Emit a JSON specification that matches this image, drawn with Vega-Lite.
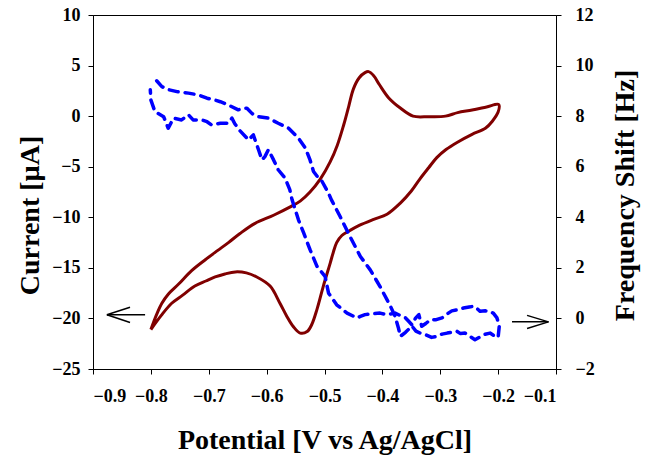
{
  "$schema": "https://vega.github.io/schema/vega-lite/v6.json",
  "autosize": {"type": "none"},
  "padding": {"left": 93, "top": 15, "right": 94, "bottom": 91},
  "width": 463,
  "height": 354,
  "background": "white",
  "config": {
    "font": "Liberation Serif",
    "view": {"stroke": "black", "strokeWidth": 1},
    "axis": {
      "grid": false,
      "labelFont": "Liberation Serif",
      "titleFont": "Liberation Serif",
      "labelFontSize": 18,
      "labelFontWeight": "bold",
      "labelColor": "black",
      "titleFontSize": 28,
      "titleFontWeight": "bold",
      "titleColor": "black",
      "domainColor": "black",
      "tickColor": "black",
      "tickSize": 5
    }
  },
  "datasets": {
    "cv": [
      {"i": 1, "E": -0.800, "I": -21.1},
      {"i": 2, "E": -0.790, "I": -19.6},
      {"i": 3, "E": -0.781, "I": -18.5},
      {"i": 4, "E": -0.770, "I": -17.6},
      {"i": 5, "E": -0.752, "I": -16.6},
      {"i": 6, "E": -0.730, "I": -15.3},
      {"i": 7, "E": -0.706, "I": -14.2},
      {"i": 8, "E": -0.685, "I": -13.3},
      {"i": 9, "E": -0.666, "I": -12.5},
      {"i": 10, "E": -0.646, "I": -11.6},
      {"i": 11, "E": -0.620, "I": -10.6},
      {"i": 12, "E": -0.588, "I": -9.8},
      {"i": 13, "E": -0.560, "I": -9.0},
      {"i": 14, "E": -0.542, "I": -8.4},
      {"i": 15, "E": -0.525, "I": -7.5},
      {"i": 16, "E": -0.507, "I": -6.2},
      {"i": 17, "E": -0.490, "I": -4.5},
      {"i": 18, "E": -0.478, "I": -2.9},
      {"i": 19, "E": -0.467, "I": -0.9},
      {"i": 20, "E": -0.458, "I": 1.0},
      {"i": 21, "E": -0.450, "I": 2.7},
      {"i": 22, "E": -0.440, "I": 3.8},
      {"i": 23, "E": -0.430, "I": 4.3},
      {"i": 24, "E": -0.424, "I": 4.4},
      {"i": 25, "E": -0.415, "I": 4.0},
      {"i": 26, "E": -0.405, "I": 3.1},
      {"i": 27, "E": -0.389, "I": 1.8},
      {"i": 28, "E": -0.369, "I": 0.8},
      {"i": 29, "E": -0.347, "I": 0.0},
      {"i": 30, "E": -0.320, "I": -0.05},
      {"i": 31, "E": -0.291, "I": 0.0},
      {"i": 32, "E": -0.270, "I": 0.35},
      {"i": 33, "E": -0.245, "I": 0.6},
      {"i": 34, "E": -0.220, "I": 0.9},
      {"i": 35, "E": -0.199, "I": 1.15},
      {"i": 36, "E": -0.200, "I": 0.4},
      {"i": 37, "E": -0.210, "I": -0.5},
      {"i": 38, "E": -0.222, "I": -1.2},
      {"i": 39, "E": -0.245, "I": -1.8},
      {"i": 40, "E": -0.271, "I": -2.6},
      {"i": 41, "E": -0.290, "I": -3.3},
      {"i": 42, "E": -0.306, "I": -4.1},
      {"i": 43, "E": -0.320, "I": -5.1},
      {"i": 44, "E": -0.335, "I": -6.2},
      {"i": 45, "E": -0.350, "I": -7.4},
      {"i": 46, "E": -0.369, "I": -8.6},
      {"i": 47, "E": -0.392, "I": -9.7},
      {"i": 48, "E": -0.415, "I": -10.2},
      {"i": 49, "E": -0.440, "I": -10.8},
      {"i": 50, "E": -0.456, "I": -11.3},
      {"i": 51, "E": -0.470, "I": -11.8},
      {"i": 52, "E": -0.479, "I": -12.5},
      {"i": 53, "E": -0.485, "I": -13.5},
      {"i": 54, "E": -0.490, "I": -14.5},
      {"i": 55, "E": -0.502, "I": -16.8},
      {"i": 56, "E": -0.513, "I": -19.1},
      {"i": 57, "E": -0.522, "I": -20.6},
      {"i": 58, "E": -0.530, "I": -21.3},
      {"i": 59, "E": -0.542, "I": -21.45},
      {"i": 60, "E": -0.554, "I": -20.8},
      {"i": 61, "E": -0.565, "I": -19.8},
      {"i": 62, "E": -0.577, "I": -18.5},
      {"i": 63, "E": -0.594, "I": -16.8},
      {"i": 64, "E": -0.617, "I": -15.9},
      {"i": 65, "E": -0.635, "I": -15.5},
      {"i": 66, "E": -0.654, "I": -15.4},
      {"i": 67, "E": -0.672, "I": -15.6},
      {"i": 68, "E": -0.689, "I": -15.9},
      {"i": 69, "E": -0.705, "I": -16.3},
      {"i": 70, "E": -0.724, "I": -16.8},
      {"i": 71, "E": -0.745, "I": -17.7},
      {"i": 72, "E": -0.764, "I": -18.5},
      {"i": 73, "E": -0.782, "I": -19.7},
      {"i": 74, "E": -0.800, "I": -21.1}
    ],
    "freq": [
      {"i": 1, "E": -0.790, "f": 9.40},
      {"i": 2, "E": -0.781, "f": 9.17},
      {"i": 3, "E": -0.770, "f": 9.05},
      {"i": 4, "E": -0.755, "f": 8.97},
      {"i": 5, "E": -0.735, "f": 8.91},
      {"i": 6, "E": -0.718, "f": 8.84},
      {"i": 7, "E": -0.703, "f": 8.71},
      {"i": 8, "E": -0.690, "f": 8.64},
      {"i": 9, "E": -0.680, "f": 8.57},
      {"i": 10, "E": -0.666, "f": 8.44},
      {"i": 11, "E": -0.649, "f": 8.25},
      {"i": 12, "E": -0.640, "f": 8.31},
      {"i": 13, "E": -0.634, "f": 8.31},
      {"i": 14, "E": -0.625, "f": 8.10},
      {"i": 15, "E": -0.614, "f": 7.98},
      {"i": 16, "E": -0.597, "f": 7.92},
      {"i": 17, "E": -0.580, "f": 7.72},
      {"i": 18, "E": -0.562, "f": 7.52},
      {"i": 19, "E": -0.545, "f": 7.13},
      {"i": 20, "E": -0.533, "f": 6.73},
      {"i": 21, "E": -0.525, "f": 6.27},
      {"i": 22, "E": -0.519, "f": 5.81},
      {"i": 23, "E": -0.512, "f": 5.60},
      {"i": 24, "E": -0.505, "f": 5.45},
      {"i": 25, "E": -0.493, "f": 4.95},
      {"i": 26, "E": -0.488, "f": 4.69},
      {"i": 27, "E": -0.473, "f": 4.03},
      {"i": 28, "E": -0.456, "f": 3.24},
      {"i": 29, "E": -0.438, "f": 2.45},
      {"i": 30, "E": -0.421, "f": 1.92},
      {"i": 31, "E": -0.404, "f": 1.26},
      {"i": 32, "E": -0.386, "f": 0.48},
      {"i": 33, "E": -0.378, "f": 0.08},
      {"i": 34, "E": -0.372, "f": -0.40},
      {"i": 35, "E": -0.369, "f": -0.71},
      {"i": 36, "E": -0.360, "f": -0.55},
      {"i": 37, "E": -0.349, "f": -0.30},
      {"i": 38, "E": -0.342, "f": -0.50},
      {"i": 39, "E": -0.335, "f": -0.58},
      {"i": 40, "E": -0.325, "f": -0.65},
      {"i": 41, "E": -0.315, "f": -0.75},
      {"i": 42, "E": -0.306, "f": -0.71},
      {"i": 43, "E": -0.297, "f": -0.62},
      {"i": 44, "E": -0.288, "f": -0.58},
      {"i": 45, "E": -0.280, "f": -0.55},
      {"i": 46, "E": -0.271, "f": -0.51},
      {"i": 47, "E": -0.265, "f": -0.60},
      {"i": 48, "E": -0.257, "f": -0.58},
      {"i": 49, "E": -0.248, "f": -0.72},
      {"i": 50, "E": -0.240, "f": -0.84},
      {"i": 51, "E": -0.232, "f": -0.74},
      {"i": 52, "E": -0.225, "f": -0.64},
      {"i": 53, "E": -0.214, "f": -0.58},
      {"i": 54, "E": -0.205, "f": -0.71},
      {"i": 55, "E": -0.200, "f": -0.75},
      {"i": 56, "E": -0.198, "f": -0.30},
      {"i": 57, "E": -0.202, "f": 0.02},
      {"i": 58, "E": -0.208, "f": 0.20},
      {"i": 59, "E": -0.214, "f": 0.28},
      {"i": 60, "E": -0.222, "f": 0.30},
      {"i": 61, "E": -0.231, "f": 0.28},
      {"i": 62, "E": -0.237, "f": 0.40},
      {"i": 63, "E": -0.242, "f": 0.48},
      {"i": 64, "E": -0.250, "f": 0.45},
      {"i": 65, "E": -0.260, "f": 0.41},
      {"i": 66, "E": -0.271, "f": 0.34},
      {"i": 67, "E": -0.280, "f": 0.30},
      {"i": 68, "E": -0.286, "f": 0.21},
      {"i": 69, "E": -0.292, "f": 0.10},
      {"i": 70, "E": -0.297, "f": 0.02},
      {"i": 71, "E": -0.307, "f": -0.05},
      {"i": 72, "E": -0.317, "f": -0.05},
      {"i": 73, "E": -0.325, "f": -0.20},
      {"i": 74, "E": -0.332, "f": -0.31},
      {"i": 75, "E": -0.337, "f": 0.15},
      {"i": 76, "E": -0.343, "f": 0.00},
      {"i": 77, "E": -0.349, "f": -0.25},
      {"i": 78, "E": -0.355, "f": -0.10},
      {"i": 79, "E": -0.360, "f": 0.02},
      {"i": 80, "E": -0.368, "f": 0.10},
      {"i": 81, "E": -0.378, "f": 0.21},
      {"i": 82, "E": -0.392, "f": 0.15},
      {"i": 83, "E": -0.404, "f": 0.21},
      {"i": 84, "E": -0.420, "f": 0.18},
      {"i": 85, "E": -0.430, "f": 0.15},
      {"i": 86, "E": -0.438, "f": 0.08},
      {"i": 87, "E": -0.444, "f": 0.02},
      {"i": 88, "E": -0.461, "f": 0.21},
      {"i": 89, "E": -0.479, "f": 0.54},
      {"i": 90, "E": -0.493, "f": 1.00},
      {"i": 91, "E": -0.499, "f": 1.66},
      {"i": 92, "E": -0.513, "f": 2.06},
      {"i": 93, "E": -0.525, "f": 2.72},
      {"i": 94, "E": -0.536, "f": 3.38},
      {"i": 95, "E": -0.545, "f": 3.90},
      {"i": 96, "E": -0.556, "f": 4.69},
      {"i": 97, "E": -0.560, "f": 5.09},
      {"i": 98, "E": -0.568, "f": 5.55},
      {"i": 99, "E": -0.580, "f": 5.88},
      {"i": 100, "E": -0.588, "f": 6.27},
      {"i": 101, "E": -0.597, "f": 6.67},
      {"i": 102, "E": -0.603, "f": 6.40},
      {"i": 103, "E": -0.608, "f": 6.27},
      {"i": 104, "E": -0.614, "f": 6.67},
      {"i": 105, "E": -0.623, "f": 7.26},
      {"i": 106, "E": -0.631, "f": 7.06},
      {"i": 107, "E": -0.646, "f": 7.42},
      {"i": 108, "E": -0.655, "f": 7.70},
      {"i": 109, "E": -0.660, "f": 7.92},
      {"i": 110, "E": -0.666, "f": 7.72},
      {"i": 111, "E": -0.680, "f": 7.72},
      {"i": 112, "E": -0.695, "f": 7.65},
      {"i": 113, "E": -0.703, "f": 7.78},
      {"i": 114, "E": -0.712, "f": 7.85},
      {"i": 115, "E": -0.727, "f": 7.85},
      {"i": 116, "E": -0.735, "f": 8.05},
      {"i": 117, "E": -0.747, "f": 7.85},
      {"i": 118, "E": -0.761, "f": 7.92},
      {"i": 119, "E": -0.770, "f": 7.52},
      {"i": 120, "E": -0.778, "f": 7.98},
      {"i": 121, "E": -0.793, "f": 8.18},
      {"i": 122, "E": -0.800, "f": 8.64},
      {"i": 123, "E": -0.801, "f": 9.04}
    ],
    "arrows": [
      {"x": -0.810, "y": -19.64, "x2": -0.876, "y2": -19.64},
      {"x": -0.876, "y": -19.64, "x2": -0.836, "y2": -18.9},
      {"x": -0.876, "y": -19.64, "x2": -0.836, "y2": -20.4},
      {"x": -0.176, "y": -20.34, "x2": -0.113, "y2": -20.34},
      {"x": -0.113, "y": -20.34, "x2": -0.150, "y2": -19.7},
      {"x": -0.113, "y": -20.34, "x2": -0.150, "y2": -21.0}
    ]
  },
  "layer": [
    {
      "layer": [
        {
          "data": {"name": "cv"},
          "mark": {"type": "line", "color": "#800000", "strokeWidth": 3, "strokeJoin": "round", "interpolate": "catmull-rom"},
          "encoding": {
            "x": {"field": "E", "type": "quantitative",
                  "scale": {"domain": [-0.9, -0.1], "nice": false, "zero": false},
                  "axis": {"title": "Potential [V vs Ag/AgCl]", "values": [-0.9, -0.8, -0.7, -0.6, -0.5, -0.4, -0.3, -0.2, -0.1], "format": ".1f", "labelPadding": 13, "titlePadding": 21}},
            "y": {"field": "I", "type": "quantitative",
                  "scale": {"domain": [-25, 10], "nice": false, "zero": false},
                  "axis": {"title": "Current [µA]", "values": [-25, -20, -15, -10, -5, 0, 5, 10], "labelPadding": 8, "titleX": -63, "titleY": 200, "titleAngle": 270, "titleAlign": "center", "titleBaseline": "middle"}},
            "order": {"field": "i", "type": "quantitative"}
          }
        },
        {
          "data": {"name": "arrows"},
          "mark": {"type": "rule", "color": "black", "strokeWidth": 1.5},
          "encoding": {
            "x": {"field": "x", "type": "quantitative", "title": "Potential [V vs Ag/AgCl]"},
            "x2": {"field": "x2"},
            "y": {"field": "y", "type": "quantitative", "title": "Current [µA]"},
            "y2": {"field": "y2"}
          }
        }
      ]
    },
    {
      "data": {"name": "freq"},
      "mark": {"type": "line", "color": "#0000ff", "strokeWidth": 3.5, "strokeDash": [9, 7], "strokeCap": "round", "strokeJoin": "round"},
      "encoding": {
        "x": {"field": "E", "type": "quantitative", "title": "Potential [V vs Ag/AgCl]"},
        "y": {"field": "f", "type": "quantitative",
              "scale": {"domain": [-2, 12], "nice": false, "zero": false},
              "axis": {"orient": "right", "title": "Frequency Shift [Hz]", "values": [-2, 0, 2, 4, 6, 8, 10, 12], "labelPadding": 14, "titleX": 69, "titleY": 180, "titleAngle": 270, "titleAlign": "center", "titleBaseline": "middle"}},
        "order": {"field": "i", "type": "quantitative"}
      }
    }
  ],
  "resolve": {"scale": {"y": "independent"}}
}
